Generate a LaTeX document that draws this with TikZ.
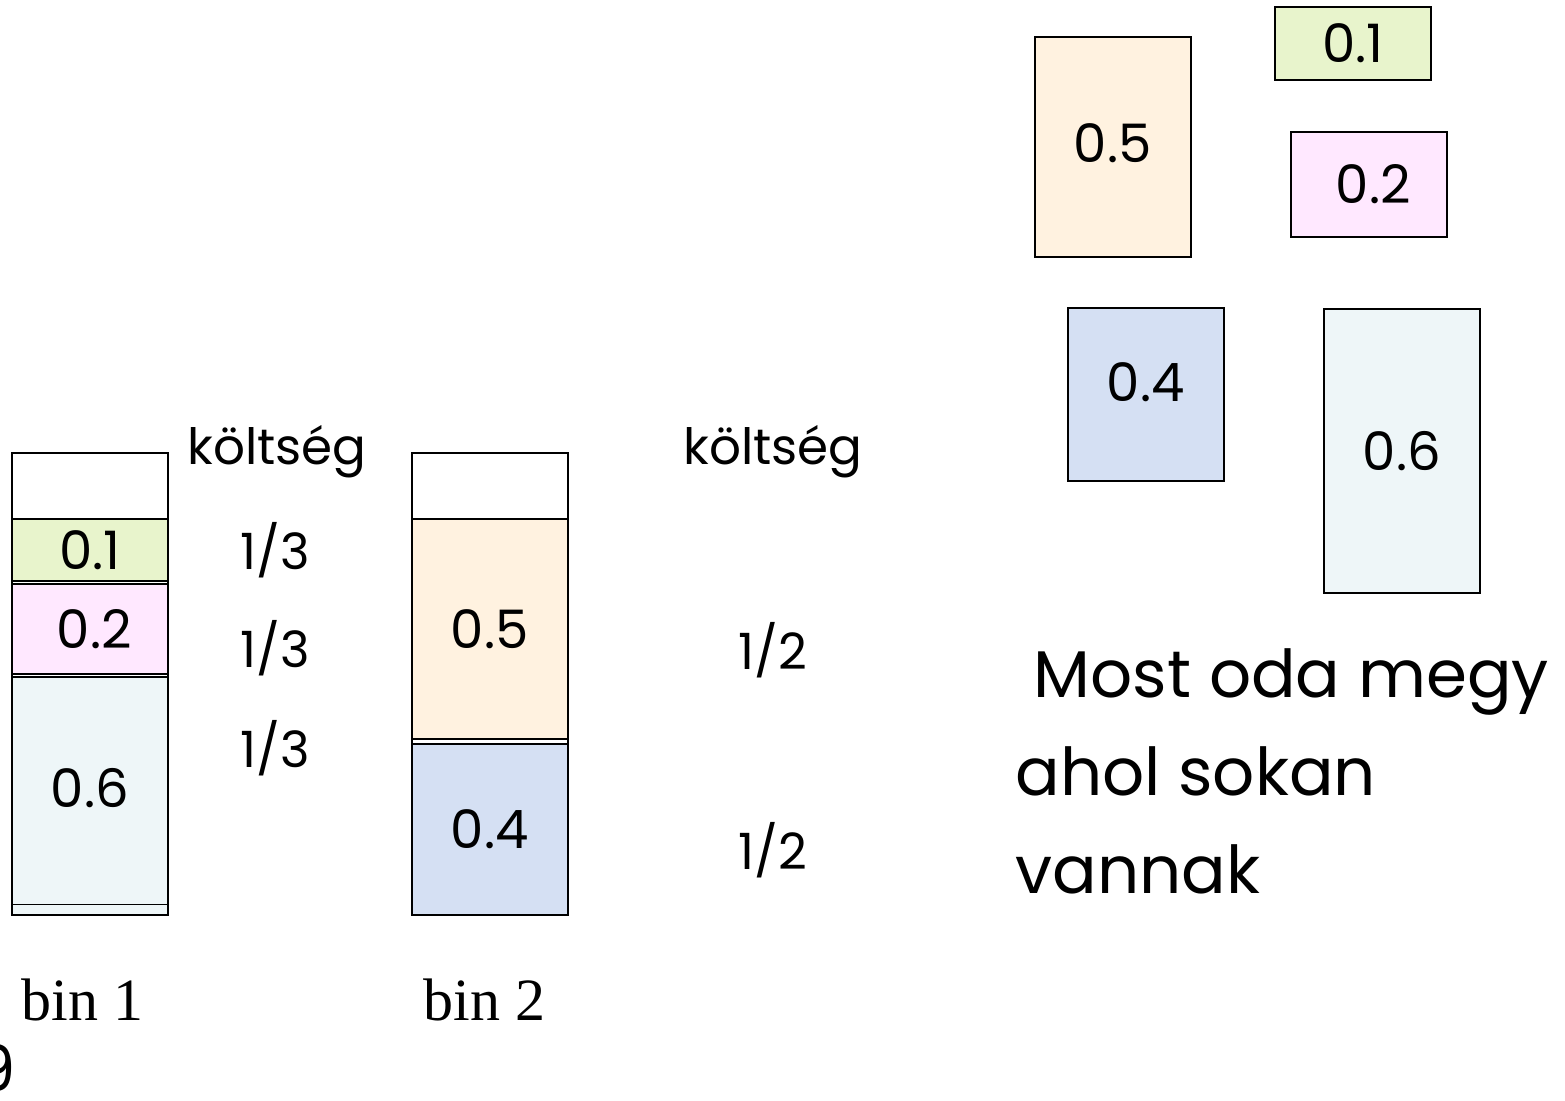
\documentclass[tikz,border=0pt]{standalone}
\usepackage{fontspec}
\setmainfont{Poppins}
\newfontfamily\binfont{Liberation Serif}
\usepackage{xcolor}
\usepackage{tikz}
\usetikzlibrary{positioning}

\definecolor{itemgreen}{HTML}{E8F4CC}
\definecolor{itempink}{HTML}{FFE8FF}
\definecolor{itemsky}{HTML}{EEF6F8}
\definecolor{itemsand}{HTML}{FFF2E0}
\definecolor{itemblue}{HTML}{D5E0F3}

\begin{document}
\begin{tikzpicture}[
  x=1pt, y=-1pt,
  box/.style={draw, line width=1.6pt, inner sep=0pt, anchor=north west, minimum width=156pt,
    font=\fontsize{53}{58}\selectfont},
  cost/.style={font=\fontsize{50}{56}\selectfont},
  binlabel/.style={font=\binfont\fontsize{60}{66}\selectfont},
  note/.style={font=\fontsize{66}{98}\selectfont, align=left, anchor=north west}
]
\useasboundingbox (0,0) rectangle (1565,1100);

% bin 1: three items stacked under the free space
\node[box, minimum height=462pt] (bin1) at (11,452) {};
\node[box, fill=itemgreen, minimum height=62pt] (b1a) at (11,518) {0.1};
\node[box, fill=itempink, minimum height=90pt] (b1b) at (11,583) {\,0.2};
\node[box, fill=itemsky, minimum height=238pt] (b1c) at (11,676) {};
\node[font=\fontsize{53}{58}\selectfont, inner sep=0pt] (b1t) at ([yshift=8pt]b1c.center) {0.6};
\draw[line width=1.6pt] ([yshift=11pt]b1c.south west) -- ([yshift=11pt]b1c.south east);
\node[binlabel, below=60pt of bin1, xshift=-7pt] (lab1) {bin 1};

% bin 2
\node[box, minimum height=462pt] (bin2) at (411,452) {};
\node[box, fill=itemsand, minimum height=220pt] (b2a) at (411,518) {0.5};
\node[box, fill=itemblue, minimum height=171pt] (b2b) at (411,743) {0.4};
\node[binlabel, below=60pt of bin2, xshift=-5pt] (lab2) {bin 2};

% costs next to the bins
\node[cost] (k1) at (277,452) {költség};
\node[cost] (c1a) at (275,550) {1/3};
\node[cost] (c1b) at (275,648) {1/3};
\node[cost] (c1c) at (275,748) {1/3};
\node[cost] (k2) at (773,452) {költség};
\node[cost] (c2a) at (773,650) {1/2};
\node[cost] (c2b) at (773,850) {1/2};

% items still waiting to be packed
\node[box, fill=itemsand, minimum height=220pt] (w5) at (1034,36) {\raisebox{8pt}{0.5}};
\node[box, fill=itemgreen, minimum height=73pt] (w1) at (1274,6) {0.1};
\node[box, fill=itempink, minimum height=105pt] (w2) at (1290,131) {\,0.2};
\node[box, fill=itemblue, minimum height=173pt] (w4) at (1067,307) {\raisebox{24pt}{0.4}};
\node[box, fill=itemsky, minimum height=284pt] (w6) at (1323,308) {0.6};

\node[note] (txt) at (1012,645) {\;Most oda megy\\ahol sokan\\vannak};

% page number cut at the edge
\node[font=\fontsize{64}{70}\selectfont, anchor=west] (pg) at (-28,1068) {9};
\end{tikzpicture}
\end{document}
